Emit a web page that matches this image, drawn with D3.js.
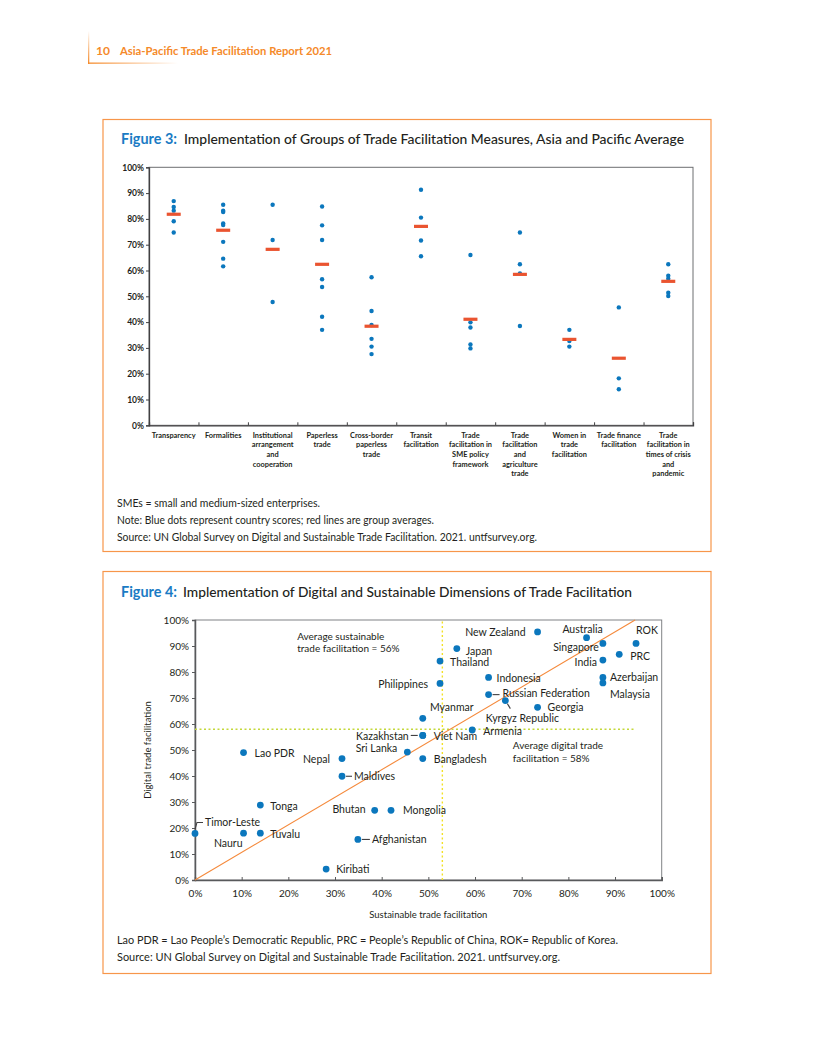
<!DOCTYPE html>
<html>
<head>
<meta charset="utf-8">
<script src="https://cdn.jsdelivr.net/npm/d3@7"></script>
<style>
  body { margin: 0; background: #fff; }
  svg { display: block; font-family: Lato, "Open Sans", sans-serif; }
</style>
</head>
<body>
<div id="page"></div>
<script>
"use strict";

// ---- Figure 3 data ----
const categories = [
  "Transparency",
  "Formalities",
  "Institutional\narrangement\nand\ncooperation",
  "Paperless\ntrade",
  "Cross-border\npaperless\ntrade",
  "Transit\nfacilitation",
  "Trade\nfacilitation in\nSME policy\nframework",
  "Trade\nfacilitation\nand\nagriculture\ntrade",
  "Women in\ntrade\nfacilitation",
  "Trade finance\nfacilitation",
  "Trade\nfacilitation in\ntimes of crisis\nand\npandemic",
];

const groupScores = [
  [86.9, 84.6, 83.2, 79.1, 74.7],
  [85.5, 83.2, 82.7, 78.2, 77.6, 71.1, 64.6, 61.6],
  [85.5, 71.8, 47.8],
  [84.8, 77.5, 71.8, 56.6, 53.6, 42.1, 37.0],
  [57.4, 44.3, 38.9, 33.5, 30.5, 27.6],
  [91.3, 80.5, 71.6, 65.5],
  [66.0, 39.9, 37.9, 31.3, 29.8],
  [74.7, 62.4, 58.9, 38.5],
  [37.0, 32.7, 30.5],
  [45.7, 18.2, 14.0],
  [62.4, 58.0, 56.8, 51.4, 50.1],
];

const groupAverages = [81.8, 75.6, 68.2, 62.4, 38.4, 77.1, 41.1, 58.5, 33.3, 26.0, 55.8];

const percentTicks = [0, 10, 20, 30, 40, 50, 60, 70, 80, 90, 100];

// ---- Figure 4 data ----
const countries = [
  "Timor-Leste", "Nauru", "Tuvalu", "Tonga", "Lao PDR", "Nepal", "Maldives",
  "Kiribati", "Afghanistan", "Bhutan", "Mongolia", "Sri Lanka", "Kazakhstan",
  "Viet Nam", "Myanmar", "Bangladesh", "Philippines", "Thailand", "Japan",
  "New Zealand", "Indonesia", "Russian Federation", "Kyrgyz Republic", "Georgia",
  "Armenia", "Australia", "Singapore", "India", "PRC", "ROK", "Azerbaijan", "Malaysia",
];
const sustainable = [
  0, 10.4, 14.0, 14.0, 10.4, 31.5, 31.5,
  28.1, 34.9, 38.5, 42.0, 45.5, 48.8,
  48.8, 48.8, 48.8, 52.5, 52.5, 56.1,
  73.4, 62.9, 62.9, 66.5, 73.4,
  59.4, 83.9, 87.4, 87.4, 90.9, 94.5, 87.4, 87.4,
];
const digital = [
  17.9, 18.0, 18.0, 28.8, 49.0, 46.7, 39.9,
  4.2, 15.6, 26.8, 26.8, 49.2, 55.6,
  55.6, 62.2, 46.7, 75.6, 84.2, 89.0,
  95.4, 77.9, 71.3, 69.0, 66.4,
  57.7, 93.2, 91.0, 84.6, 86.8, 91.0, 77.9, 75.8,
];
const avgSustainable = 53;
const avgDigital = 58;
const trendX = [0, 94.3];
const trendY = [0, 100];

// label placement next to each dot (pixels relative to the dot)
const labelPlacement = {
  "Timor-Leste": { dx: 10, dy: -7, anchor: "start", leader: [[0, -4], [2, -11], [8, -11]] },
  "Nauru": { dx: -1, dy: 14, anchor: "end" },
  "Tuvalu": { dx: 10, dy: 5, anchor: "start" },
  "Tonga": { dx: 10, dy: 5, anchor: "start" },
  "Lao PDR": { dx: 11, dy: 4, anchor: "start" },
  "Nepal": { dx: -12, dy: 4, anchor: "end" },
  "Maldives": { dx: 12, dy: 4, anchor: "start", leader: [[4, 0], [10, 0]] },
  "Kiribati": { dx: 10, dy: 4, anchor: "start" },
  "Afghanistan": { dx: 14, dy: 4, anchor: "start", leader: [[4, 0], [12, 0]] },
  "Bhutan": { dx: -9, dy: 3, anchor: "end" },
  "Mongolia": { dx: 12, dy: 4, anchor: "start" },
  "Sri Lanka": { dx: -10, dy: 0, anchor: "end" },
  "Kazakhstan": { dx: -14, dy: 4.5, anchor: "end", leader: [[-12, 0], [-5, 0]] },
  "Viet Nam": { dx: 11, dy: 4.5, anchor: "start" },
  "Myanmar": { dx: 29, dy: -7, anchor: "middle" },
  "Bangladesh": { dx: 11, dy: 4, anchor: "start" },
  "Philippines": { dx: -12, dy: 4.5, anchor: "end" },
  "Thailand": { dx: 10, dy: 4.5, anchor: "start" },
  "Japan": { dx: 9, dy: 6, anchor: "start" },
  "New Zealand": { dx: -12, dy: 4.5, anchor: "end" },
  "Indonesia": { dx: 8, dy: 5, anchor: "start" },
  "Russian Federation": { dx: 14, dy: 2, anchor: "start", leader: [[4, 0], [11, 0]] },
  "Kyrgyz Republic": { dx: 17, dy: 21.5, anchor: "middle", leader: [[2, 3], [5, 8]] },
  "Georgia": { dx: 10, dy: 4, anchor: "start" },
  "Armenia": { dx: 11, dy: 5, anchor: "start" },
  "Australia": { dx: -4, dy: -5, anchor: "middle" },
  "Singapore": { dx: -4, dy: 8, anchor: "end" },
  "India": { dx: -6, dy: 5.7, anchor: "end" },
  "PRC": { dx: 11, dy: 5.5, anchor: "start" },
  "ROK": { dx: 0, dy: -9.7, anchor: "start" },
  "Azerbaijan": { dx: 7, dy: 4, anchor: "start" },
  "Malaysia": { dx: 7, dy: 15, anchor: "start" },
};

// ---- styles ----
const orange = "#f7964a";
const headerOrange = "#f58a2a";
const titleBlue = "#1a7bc4";
const dotBlue = "#0b77bd";
const avgRed = "#ea5430";
const textColor = "#231f20";

const svg = d3
  .select("#page")
  .append("svg")
  .attr("width", 816)
  .attr("height", 1056);

const defs = svg.append("defs");
const gH = defs.append("linearGradient").attr("id", "fadeH");
gH.append("stop").attr("offset", "0%").attr("stop-color", headerOrange);
gH.append("stop").attr("offset", "100%").attr("stop-color", headerOrange).attr("stop-opacity", 0);
const gV = defs
  .append("linearGradient")
  .attr("id", "fadeV")
  .attr("x1", 0).attr("y1", 0).attr("x2", 0).attr("y2", 1);
gV.append("stop").attr("offset", "0%").attr("stop-color", headerOrange).attr("stop-opacity", 0);
gV.append("stop").attr("offset", "100%").attr("stop-color", headerOrange);

// ---- page header ----
svg.append("rect").attr("x", 88).attr("y", 31).attr("width", 1.3).attr("height", 33).attr("fill", "url(#fadeV)");
svg.append("rect").attr("x", 88).attr("y", 62.5).attr("width", 90).attr("height", 1.3).attr("fill", "url(#fadeH)");
svg.append("text").attr("x", 96).attr("y", 55).attr("fill", headerOrange)
  .style("font-size", "12px").style("font-weight", 700).text("10");
svg.append("text").attr("x", 120).attr("y", 55).attr("fill", headerOrange)
  .style("font-size", "12px").style("font-weight", 700)
  .attr("textLength", 212).attr("lengthAdjust", "spacingAndGlyphs")
  .text("Asia-Pacific Trade Facilitation Report 2021");

const fitText = (sel, x, y, width, size, weight, fill, txt) =>
  sel.append("text").attr("x", x).attr("y", y).attr("fill", fill)
    .style("font-size", size + "px").style("font-weight", weight)
    .attr("textLength", width).attr("lengthAdjust", "spacingAndGlyphs")
    .text(txt);

// ================= Figure 3 =================
svg.append("rect").attr("x", 103).attr("y", 119.5).attr("width", 608).attr("height", 432)
  .attr("fill", "none").attr("stroke", orange).attr("stroke-width", 1.2);

fitText(svg, 121, 144, 56, 14.5, 700, titleBlue, "Figure 3:");
fitText(svg, 184, 144, 500, 14, 500, textColor,
  "Implementation of Groups of Trade Facilitation Measures, Asia and Pacific Average");

const f3 = { left: 149, right: 693, top: 167.3, bottom: 425.3 };

const x3 = d3.scaleBand().domain(categories).range([f3.left, f3.right]);
const x3edge = d3.scaleLinear().domain([0, categories.length]).range([f3.left, f3.right]);
const y3 = d3.scaleLinear().domain([0, 100]).range([f3.bottom, f3.top]);

const fig3 = svg.append("g");

fig3.append("rect")
  .attr("x", f3.left).attr("y", f3.top)
  .attr("width", f3.right - f3.left).attr("height", f3.bottom - f3.top)
  .attr("fill", "none").attr("stroke", "#6d6e71").attr("stroke-width", 1);

const y3Axis = fig3.append("g")
  .attr("transform", `translate(${f3.left},0)`)
  .call(d3.axisLeft(y3).tickValues(percentTicks).tickFormat((d) => d + "%").tickSize(3).tickPadding(2));
y3Axis.selectAll("text").style("font-size", "8.5px").style("font-weight", 700).attr("fill", textColor)
  .style("font-family", "Lato, sans-serif");
y3Axis.selectAll("line, path").attr("stroke", "#414042");
y3Axis.select("path").attr("stroke-width", 1.3);

const x3Axis = fig3.append("g")
  .attr("transform", `translate(0,${f3.bottom})`)
  .call(d3.axisBottom(x3edge).tickValues(d3.range(categories.length + 1)).tickFormat("").tickSize(-3));
x3Axis.selectAll("line, path").attr("stroke", "#414042");
x3Axis.select("path").attr("stroke-width", 1.3);

// category labels (multi-line)
const catLabels = fig3.selectAll(".cat")
  .data(categories)
  .enter()
  .append("text")
  .attr("class", "cat")
  .attr("text-anchor", "middle")
  .attr("fill", textColor)
  .style("font-size", "7.4px")
  .style("font-weight", 700);
catLabels.each(function (d) {
  const t = d3.select(this);
  d.split("\n").forEach((line, i) => {
    t.append("tspan")
      .attr("x", x3(d) + x3.bandwidth() / 2)
      .attr("y", f3.bottom + 12.3 + i * 9.7)
      .text(line);
  });
});

// country dots
const dots3 = categories.flatMap((c, i) => groupScores[i].map((v) => ({ c, v })));
fig3.selectAll(".dot")
  .data(dots3)
  .enter()
  .append("circle")
  .attr("class", "dot")
  .attr("cx", (d) => x3(d.c) + x3.bandwidth() / 2)
  .attr("cy", (d) => y3(d.v))
  .attr("r", 2.2)
  .attr("fill", dotBlue);

// group averages
fig3.selectAll(".avg")
  .data(categories)
  .enter()
  .append("rect")
  .attr("class", "avg")
  .attr("x", (d) => x3(d) + x3.bandwidth() / 2 - 7)
  .attr("y", (d, i) => y3(groupAverages[i]) - 1.6)
  .attr("width", 14)
  .attr("height", 3.2)
  .attr("fill", avgRed);

fitText(svg, 117, 507, 203, 11, 400, textColor, "SMEs = small and medium-sized enterprises.");
fitText(svg, 117, 524, 317, 11, 400, textColor,
  "Note: Blue dots represent country scores; red lines are group averages.");
fitText(svg, 117, 541, 420, 11, 400, textColor,
  "Source: UN Global Survey on Digital and Sustainable Trade Facilitation. 2021. untfsurvey.org.");

// ================= Figure 4 =================
svg.append("rect").attr("x", 103).attr("y", 571.5).attr("width", 608).attr("height", 402)
  .attr("fill", "none").attr("stroke", orange).attr("stroke-width", 1.2);

fitText(svg, 121, 597, 56, 14.5, 700, titleBlue, "Figure 4:");
fitText(svg, 183, 597, 449, 14, 500, textColor,
  "Implementation of Digital and Sustainable Dimensions of Trade Facilitation");

const f4 = { left: 195, right: 661.7, top: 620, bottom: 880 };
const x4 = d3.scaleLinear().domain([0, 100]).range([f4.left, f4.right]);
const y4 = d3.scaleLinear().domain([0, 100]).range([f4.bottom, f4.top]);

const fig4 = svg.append("g");

fig4.append("rect")
  .attr("x", f4.left).attr("y", f4.top)
  .attr("width", f4.right - f4.left).attr("height", f4.bottom - f4.top)
  .attr("fill", "none").attr("stroke", "#808285").attr("stroke-width", 1);

const y4Axis = fig4.append("g")
  .attr("transform", `translate(${f4.left},0)`)
  .call(d3.axisLeft(y4).tickValues(percentTicks).tickFormat((d) => d + "%").tickSize(3).tickPadding(3));
const x4Axis = fig4.append("g")
  .attr("transform", `translate(0,${f4.bottom})`)
  .call(d3.axisBottom(x4).tickValues(percentTicks).tickFormat((d) => d + "%").tickSize(-3).tickPadding(10));
[y4Axis, x4Axis].forEach((a) => {
  a.selectAll("text").style("font-size", "10px").attr("fill", textColor)
    .style("font-family", "Lato, sans-serif");
  a.selectAll("line, path").attr("stroke", "#58595b");
  a.select("path").attr("stroke-width", 1.5);
});

fig4.append("text")
  .attr("text-anchor", "middle")
  .attr("transform", `translate(${151}, ${y4(50)}) rotate(-90)`)
  .attr("fill", textColor)
  .style("font-size", "9.5px")
  .text("Digital trade facilitation");

fig4.append("text")
  .attr("text-anchor", "middle")
  .attr("x", x4(50))
  .attr("y", 918)
  .attr("fill", textColor)
  .style("font-size", "9.5px")
  .text("Sustainable trade facilitation");

// average lines
fig4.append("line")
  .attr("x1", x4(avgSustainable)).attr("x2", x4(avgSustainable))
  .attr("y1", y4(0)).attr("y2", y4(100))
  .attr("stroke", "#f2e125").attr("stroke-width", 1.4).attr("stroke-dasharray", "2,2.5");
fig4.append("line")
  .attr("x1", x4(0)).attr("x2", x4(94.3))
  .attr("y1", y4(avgDigital)).attr("y2", y4(avgDigital))
  .attr("stroke", "#c4d83a").attr("stroke-width", 1.4).attr("stroke-dasharray", "2,2.5");

// trend line
fig4.append("line")
  .attr("x1", x4(trendX[0])).attr("y1", y4(trendY[0]))
  .attr("x2", x4(trendX[1])).attr("y2", y4(trendY[1]))
  .attr("stroke", "#f58a3c").attr("stroke-width", 1.1);

// annotations
const note = (x, y, lines) => {
  const t = fig4.append("text").attr("fill", textColor).style("font-size", "10px");
  lines.forEach((l, i) => t.append("tspan").attr("x", x).attr("y", y + i * 12.3).text(l));
};
note(x4(21.9), y4(92.4), ["Average sustainable", "trade facilitation = 56%"]);
note(x4(68.1), y4(50.3), ["Average digital trade", "facilitation = 58%"]);

const pts = countries.map((c, i) => ({ c, x: x4(sustainable[i]), y: y4(digital[i]) }));

// leaders
fig4.selectAll(".leader")
  .data(pts.filter((p) => labelPlacement[p.c].leader))
  .enter()
  .append("polyline")
  .attr("class", "leader")
  .attr("points", (p) => labelPlacement[p.c].leader.map(([dx, dy]) => [p.x + dx, p.y + dy].join(",")).join(" "))
  .attr("fill", "none")
  .attr("stroke", "#414042")
  .attr("stroke-width", 1.1);

// dots
fig4.selectAll(".cdot")
  .data(pts)
  .enter()
  .append("circle")
  .attr("class", "cdot")
  .attr("cx", (p) => p.x)
  .attr("cy", (p) => p.y)
  .attr("r", 3.4)
  .attr("fill", dotBlue);

// labels
fig4.selectAll(".clabel")
  .data(pts)
  .enter()
  .append("text")
  .attr("class", "clabel")
  .attr("x", (p) => p.x + labelPlacement[p.c].dx)
  .attr("y", (p) => p.y + labelPlacement[p.c].dy)
  .attr("text-anchor", (p) => labelPlacement[p.c].anchor)
  .attr("fill", textColor)
  .style("font-size", "10.5px")
  .text((p) => p.c);

fitText(svg, 117, 944, 501, 11, 400, textColor,
  "Lao PDR = Lao People\u2019s Democratic Republic, PRC = People\u2019s Republic of China, ROK= Republic of Korea.");
fitText(svg, 117, 961, 443, 11, 400, textColor,
  "Source:  UN Global Survey on Digital and Sustainable Trade Facilitation. 2021. untfsurvey.org.");
</script>
</body>
</html>
